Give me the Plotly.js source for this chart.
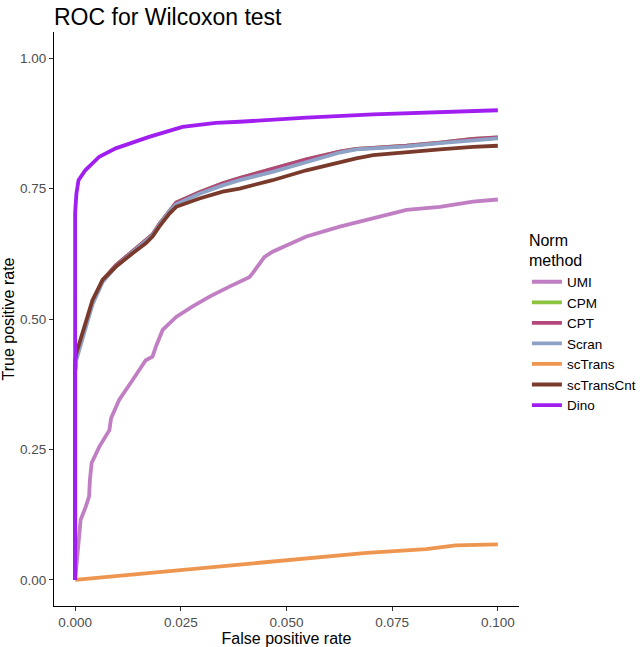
<!DOCTYPE html>
<html>
<head>
<meta charset="utf-8">
<script src="https://cdn.plot.ly/plotly-3.0.1.min.js"></script>
<style>html,body{margin:0;padding:0;background:#fff;}#chart{width:640px;height:647px;}</style>
</head>
<body>
<div id="chart"></div>
<script>
const seriesNames = ["UMI", "CPM", "CPT", "Scran", "scTrans", "scTransCnt", "Dino"];
const seriesColors = ["#C07EC3", "#8CC43F", "#B3467A", "#8EA2C6", "#EE9550", "#7A3A2B", "#A01EF0"];

const umiX = [0, 0.0002, 0.0008, 0.0013, 0.0025, 0.0033, 0.0035, 0.0039, 0.0057, 0.0081, 0.0085, 0.0104, 0.0136, 0.0167, 0.0183, 0.0191, 0.0207, 0.0239, 0.0278, 0.0318, 0.0365, 0.0412, 0.0420, 0.0448, 0.0467, 0.0547, 0.0626, 0.0705, 0.0784, 0.0863, 0.0941, 0.1];
const umiY = [0, 0.019, 0.064, 0.115, 0.140, 0.160, 0.192, 0.224, 0.255, 0.287, 0.310, 0.345, 0.383, 0.421, 0.428, 0.447, 0.479, 0.504, 0.524, 0.543, 0.562, 0.580, 0.588, 0.619, 0.629, 0.658, 0.677, 0.693, 0.709, 0.715, 0.725, 0.729];

const clusterX = [0, 0, 0.0003, 0.0017, 0.0041, 0.0065, 0.0096, 0.0136, 0.0167, 0.0183, 0.0199, 0.0223, 0.0239, 0.0294, 0.0349, 0.0389, 0.0467, 0.0547, 0.0626, 0.0665, 0.0705, 0.0784, 0.0863, 0.0941, 0.1];
const cpmY = [0, 0.40, 0.428, 0.468, 0.532, 0.574, 0.603, 0.630, 0.650, 0.662, 0.682, 0.708, 0.723, 0.743, 0.760, 0.770, 0.788, 0.806, 0.821, 0.826, 0.828, 0.832, 0.838, 0.845, 0.848];
const cptY = [0, 0.40, 0.428, 0.468, 0.532, 0.574, 0.603, 0.630, 0.650, 0.662, 0.682, 0.708, 0.723, 0.743, 0.760, 0.770, 0.788, 0.806, 0.821, 0.826, 0.828, 0.832, 0.838, 0.845, 0.848];
const scranY = [0, 0.40, 0.422, 0.462, 0.528, 0.571, 0.600, 0.628, 0.648, 0.660, 0.680, 0.706, 0.720, 0.740, 0.756, 0.766, 0.782, 0.801, 0.819, 0.825, 0.827, 0.831, 0.837, 0.843, 0.846];
const scTransCntY = [0, 0.42, 0.435, 0.473, 0.536, 0.575, 0.600, 0.626, 0.645, 0.658, 0.677, 0.702, 0.715, 0.731, 0.744, 0.750, 0.766, 0.785, 0.801, 0.808, 0.814, 0.820, 0.825, 0.830, 0.832];

const scTransX = [0, 0.068, 0.069, 0.083, 0.090, 0.1];
const scTransY = [0, 0.050, 0.052, 0.059, 0.066, 0.068];

const dinoX = [0, 0, 0.0003, 0.0008, 0.0024, 0.0057, 0.0096, 0.0175, 0.0254, 0.0333, 0.0389, 0.0547, 0.0705, 0.0863, 0.1];
const dinoY = [0, 0.703, 0.74, 0.766, 0.785, 0.811, 0.827, 0.849, 0.868, 0.876, 0.878, 0.886, 0.892, 0.897, 0.900];

const xs = [umiX, clusterX, clusterX, clusterX, scTransX, clusterX, dinoX];
const ys = [umiY, cpmY, cptY, scranY, scTransY, scTransCntY, dinoY];

const traces = seriesNames.map((n, i) => ({
  type: "scatter", mode: "lines", name: n,
  x: xs[i], y: ys[i],
  line: {color: seriesColors[i], width: 3.8}
}));

const font = "Liberation Sans, Arial, sans-serif";
const layout = {
  width: 640, height: 647,
  margin: {l: 54, r: 121, t: 32, b: 41, autoexpand: false},
  paper_bgcolor: "#fff", plot_bgcolor: "#fff",
  font: {family: font, color: "#000"},
  title: {text: "ROC for Wilcoxon test", x: 0, xref: "paper", xanchor: "left", y: 0.987, yref: "container", yanchor: "top",
          font: {size: 23, family: font, color: "#000"}},
  xaxis: {range: [-0.005, 0.105], tickvals: [0, 0.025, 0.05, 0.075, 0.1], tickformat: ".3f",
          showgrid: false, zeroline: false, showline: true, linecolor: "#000", linewidth: 1,
          ticks: "outside", ticklen: 4, tickcolor: "#333", tickfont: {size: 13.5, color: "#4d4d4d"},
          title: {text: "False positive rate", font: {size: 16, color: "#000"}, standoff: 4}},
  yaxis: {range: [-0.05, 1.05], tickvals: [0, 0.25, 0.5, 0.75, 1], tickformat: ".2f",
          showgrid: false, zeroline: false, showline: true, linecolor: "#000", linewidth: 1,
          ticks: "outside", ticklen: 4, tickcolor: "#333", tickfont: {size: 13.5, color: "#4d4d4d"},
          title: {text: "True positive rate", font: {size: 16, color: "#000"}, standoff: 6}},
  legend: {x: 1.017, xanchor: "left", y: 0.664, yanchor: "top",
           title: {text: "Norm<br>method", font: {size: 16, color: "#000"}},
           font: {size: 13.5, color: "#000"}, itemwidth: 30, tracegroupgap: 0},
  showlegend: true
};
Plotly.newPlot("chart", traces, layout, {displayModeBar: false, staticPlot: true});
</script>
</body>
</html>
